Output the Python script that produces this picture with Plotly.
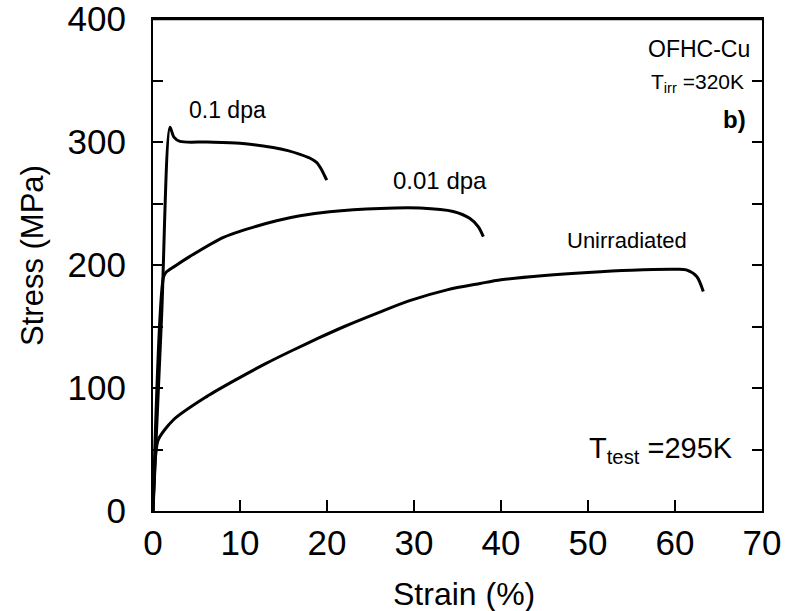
import plotly.graph_objects as go

# Engineering stress-strain curves, OFHC copper irradiated at 320 K, tested at 295 K
strain_01dpa = [0.0, 1.0, 1.95, 2.4, 3.1, 6.2, 10.0, 13.8, 15.5, 16.9, 18.0, 18.8, 19.3, 19.7, 19.97]
stress_01dpa = [0, 160, 312, 304, 300.5, 300, 299, 295.5, 293, 290, 287, 283.5, 278.5, 273, 269]

strain_001dpa = [0.0, 1.2, 1.5, 2.5, 4.25, 8.1, 11.9, 14.2, 16.9, 20.3, 26.1, 30.7, 34.5, 36.4, 37.4, 37.97]
stress_001dpa = [0, 190, 194, 199, 207, 222.5, 231.5, 236, 240, 243.3, 246, 246.3, 243.5, 238, 231, 223]

strain_unirr = [0.0, 0.3, 0.61, 2.33, 6.17, 9.6, 13.0, 16.0, 19.0, 22.0, 26.0, 29.5, 33.8, 37.6,
                40.0, 45.0, 50.0, 55.0, 60.0, 61.3, 62.5, 63.25]
stress_unirr = [0, 45, 58, 74, 93, 107, 120, 130.5, 140.5, 150, 161.5, 171, 179.8, 185,
                188, 191.5, 194, 195.8, 196.5, 196, 190.6, 178.4]

x_ticks = [0, 10, 20, 30, 40, 50, 60, 70]
y_ticks = [0, 100, 200, 300, 400]

FONT = "Liberation Sans"
INK = "black"

fig = go.Figure()
for xs, ys in [(strain_01dpa, stress_01dpa),
               (strain_001dpa, stress_001dpa),
               (strain_unirr, stress_unirr)]:
    fig.add_trace(go.Scatter(x=xs, y=ys, mode="lines",
                             line=dict(color=INK, width=3, shape="spline", smoothing=0.8),
                             showlegend=False, hoverinfo="skip"))

fig.update_layout(
    width=786, height=611,
    margin=dict(l=153, r=24, t=19, b=100, autoexpand=False),
    paper_bgcolor="white", plot_bgcolor="white",
    font=dict(family=FONT, color=INK),
    showlegend=False,
)

fig.update_xaxes(
    range=[0, 70], tickvals=x_ticks, ticktext=[str(v) for v in x_ticks],
    ticks="inside", ticklen=11, tickwidth=2, tickcolor=INK,
    showline=True, linewidth=2, linecolor=INK, mirror=True,
    showgrid=False, zeroline=False,
    tickfont=dict(family=FONT, size=35, color=INK),
    ticklabelstandoff=0,
)
fig.update_yaxes(
    range=[0, 400], tickvals=y_ticks, ticktext=[str(v) for v in y_ticks],
    ticks="inside", ticklen=10, tickwidth=2, tickcolor=INK,
    minor=dict(ticks="inside", dtick=50, ticklen=10, tickwidth=2, tickcolor=INK),
    showline=True, linewidth=2, linecolor=INK, mirror="ticks",
    showgrid=False, zeroline=False,
    tickfont=dict(family=FONT, size=35, color=INK),
    ticklabelstandoff=18, ticklabeloverflow="allow",
)

# Top edge of the frame
fig.add_shape(type="line", xref="paper", yref="paper", x0=0, x1=1, y0=1, y1=1,
              line=dict(color=INK, width=2.5), layer="above")

# Axis titles
fig.add_annotation(xref="paper", yref="paper", x=0.511, y=-0.169,
                   xanchor="center", yanchor="middle",
                   text="Strain (%)", showarrow=False,
                   font=dict(family=FONT, size=32, color=INK))
fig.add_annotation(xref="paper", yref="paper", x=-0.199, y=0.52,
                   xanchor="center", yanchor="middle",
                   text="Stress (MPa)", showarrow=False, textangle=-90,
                   font=dict(family=FONT, size=31, color=INK))

# Curve labels and specimen notes
notes = [
    (62.8, 376, "OFHC-Cu", 23, "center"),
    (57.0, 347.8, "T<sub>irr</sub> =320K", 21, "left"),
    (66.8, 318, "<b>b)</b>", 24, "center"),
    (8.6, 326, "0.1 dpa", 23, "center"),
    (33.0, 269, "0.01 dpa", 24, "center"),
    (54.5, 220, "Unirradiated", 22, "center"),
    (49.9, 50, "T<sub>test</sub> =295K", 29, "left"),
]
for x, y, txt, size, anchor in notes:
    fig.add_annotation(x=x, y=y, text=txt, showarrow=False, xanchor=anchor,
                       yanchor="middle",
                       font=dict(family=FONT, size=size, color=INK))

fig.write_html("out.html", config={"displayModeBar": False})
